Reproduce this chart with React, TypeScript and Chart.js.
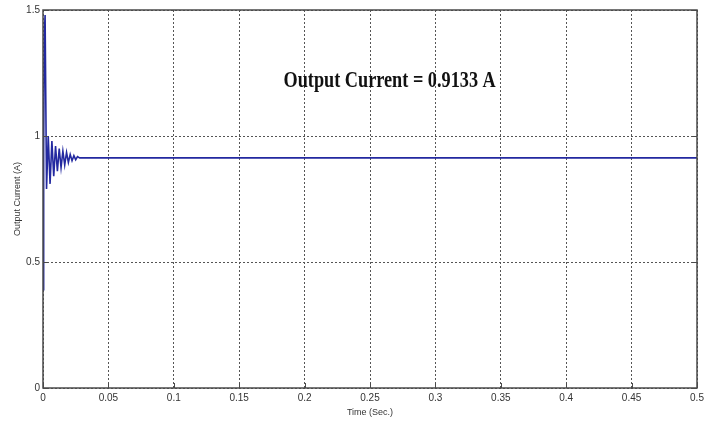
import React, { useEffect, useRef } from "react";
import { Chart, registerables } from "chart.js";

Chart.register(...registerables);

const timeSec = [0, 0.0005, 0.001, 0.0016, 0.0027, 0.004, 0.0054, 0.0068, 0.0082, 0.0096, 0.011, 0.0124, 0.0138, 0.0152, 0.0166, 0.018, 0.0194, 0.0208, 0.0222, 0.0236, 0.025, 0.0264, 0.028, 0.5];
const currentA = [0.39, 0.95, 1.4, 1.48, 0.79, 1.0, 0.81, 0.98, 0.84, 0.96, 0.86, 0.95, 0.875, 0.94, 0.885, 0.935, 0.895, 0.927, 0.902, 0.922, 0.906, 0.918, 0.9133, 0.9133];

const xTickValues = [0, 0.05, 0.1, 0.15, 0.2, 0.25, 0.3, 0.35, 0.4, 0.45, 0.5];
const xTickLabels = ["0", "0.05", "0.1", "0.15", "0.2", "0.25", "0.3", "0.35", "0.4", "0.45", "0.5"];
const yTickValues = [0, 0.5, 1, 1.5];
const yTickLabels = ["0", "0.5", "1", "1.5"];

const annotationText = "Output Current = 0.9133 A";
const annotationPos = { x: 0.265, y: 1.22 };
const xTitle = "Time (Sec.)";
const yTitle = "Output Current (A)";

const framePlugin = {
  id: "frameAndText",
  afterDatasetsDraw(chart: any) {
    const { ctx, chartArea, scales } = chart;
    const xs = scales.x;
    const ys = scales.y;
    ctx.save();
    ctx.strokeStyle = "#4a4a4a";
    ctx.lineWidth = 1;
    ctx.setLineDash([]);
    xTickValues.forEach((v) => {
      const px = Math.round(xs.getPixelForValue(v)) + 0.5;
      ctx.beginPath();
      ctx.moveTo(px, chartArea.bottom);
      ctx.lineTo(px, chartArea.bottom - 5);
      ctx.stroke();
    });
    yTickValues.forEach((v) => {
      const py = Math.round(ys.getPixelForValue(v)) + 0.5;
      ctx.beginPath();
      ctx.moveTo(chartArea.left, py);
      ctx.lineTo(chartArea.left + 5, py);
      ctx.moveTo(chartArea.right, py);
      ctx.lineTo(chartArea.right - 5, py);
      ctx.stroke();
    });
    ctx.lineWidth = 1.5;
    ctx.strokeStyle = "#4a4a4a";
    ctx.strokeRect(chartArea.left, chartArea.top, chartArea.right - chartArea.left, chartArea.bottom - chartArea.top);
    // annotation, slightly condensed like the reference
    ctx.fillStyle = "#111";
    ctx.font = 'bold 24px "Liberation Serif", "Times New Roman", serif';
    ctx.textAlign = "center";
    ctx.textBaseline = "middle";
    ctx.translate(xs.getPixelForValue(annotationPos.x), ys.getPixelForValue(annotationPos.y));
    ctx.scale(0.76, 1);
    ctx.fillText(annotationText, 0, 0);
    ctx.restore();
  },
};

export default function App() {
  const canvasRef = useRef<HTMLCanvasElement | null>(null);

  useEffect(() => {
    if (!canvasRef.current) return;
    const data = timeSec.map((t, i) => ({ x: t, y: currentA[i] }));
    const chart = new Chart(canvasRef.current, {
      type: "line",
      data: {
        datasets: [
          {
            data,
            borderColor: "#2329a0",
            borderWidth: 1.6,
            pointRadius: 0,
            tension: 0,
            fill: false,
          },
        ],
      },
      options: {
        animation: false,
        responsive: false,
        devicePixelRatio: 1,
        layout: { padding: { top: 10, right: 12, left: 0, bottom: 0 } },
        plugins: { legend: { display: false }, tooltip: { enabled: false } },
        scales: {
          x: {
            type: "linear",
            min: 0,
            max: 0.5,
            afterBuildTicks: (scale: any) => {
              scale.ticks = xTickValues.map((v) => ({ value: v }));
            },
            afterFit: (scale: any) => {
              scale.height = 35;
            },
            ticks: {
              padding: 4,
              maxRotation: 0,
              autoSkip: false,
              color: "#333",
              font: { family: '"Liberation Sans", Arial, sans-serif', size: 10 },
              callback: (v: any) => {
                const i = xTickValues.findIndex((t) => Math.abs(t - Number(v)) < 1e-9);
                return i >= 0 ? xTickLabels[i] : "";
              },
            },
            grid: { color: "#555", lineWidth: 1, drawTicks: false },
            border: { display: false, dash: [2, 2] },
            title: {
              display: true,
              text: xTitle,
              color: "#333",
              font: { family: '"Liberation Sans", Arial, sans-serif', size: 9 },
              padding: { top: 0, bottom: 5 },
            },
          },
          y: {
            type: "linear",
            min: 0,
            max: 1.5,
            afterBuildTicks: (scale: any) => {
              scale.ticks = yTickValues.map((v) => ({ value: v }));
            },
            afterFit: (scale: any) => {
              scale.width = 43;
            },
            ticks: {
              padding: 3,
              autoSkip: false,
              color: "#333",
              font: { family: '"Liberation Sans", Arial, sans-serif', size: 10 },
              callback: (v: any) => {
                const i = yTickValues.findIndex((t) => Math.abs(t - Number(v)) < 1e-9);
                return i >= 0 ? yTickLabels[i] : "";
              },
            },
            grid: { color: "#555", lineWidth: 1, drawTicks: false },
            border: { display: false, dash: [2, 2] },
            title: {
              display: true,
              text: yTitle,
              color: "#333",
              font: { family: '"Liberation Sans", Arial, sans-serif', size: 9 },
              padding: { top: 12, bottom: 0 },
            },
          },
        },
      },
      plugins: [framePlugin],
    });
    return () => chart.destroy();
  }, []);

  return (
    <div style={{ position: "fixed", left: 0, top: 0, width: 709, height: 423, background: "#fff" }}>
      <canvas ref={canvasRef} width={709} height={423} style={{ display: "block", width: 709, height: 423 }} />
    </div>
  );
}
